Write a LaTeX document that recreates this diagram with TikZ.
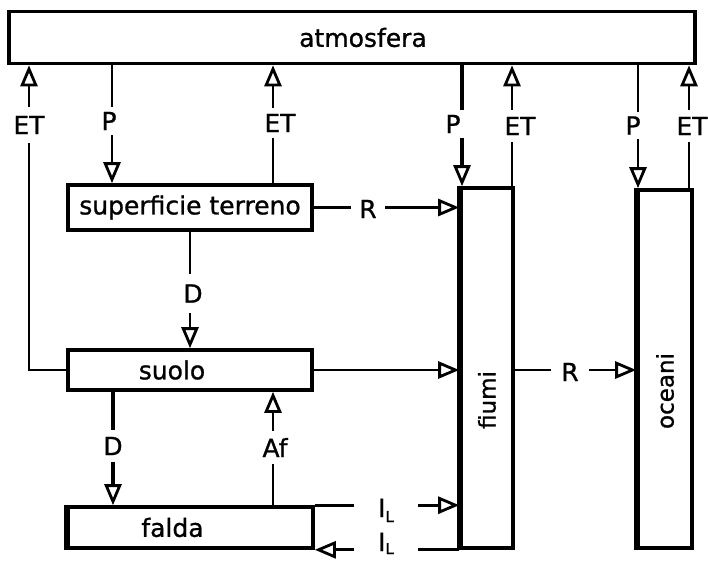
\documentclass[tikz,border=0pt]{standalone}
\usepackage{fontspec}
\setmainfont{DejaVu Sans}[UprightFeatures={FakeBold=1.0}]
\usetikzlibrary{arrows.meta}
\begin{document}
\begin{tikzpicture}[x=1pt,y=-1pt,
  txt/.style={font=\fontsize{25}{29}\selectfont},
  box/.style={draw, line width=3.6pt, inner sep=0pt, txt},
  conn/.style={line width=2.8pt},
  arr/.style={conn, -{Triangle[open, length=21pt, width=17pt, line width=2.8pt]}},
  lbl/.style={fill=white, inner xsep=8pt, inner ysep=7pt, txt},
  vtext/.style={rotate=90, inner sep=0pt, font=\fontsize{23}{27}\selectfont}]
\useasboundingbox[fill=white] (0,0) rectangle (708,560);

% boxes
\node[box, minimum width=686pt, minimum height=52pt] (atm) at (352,37.5) {\hspace*{22pt}atmosfera};
\node[box, minimum width=244pt, minimum height=45pt] (sup) at (190,207.5) {superficie terreno};
\node[box, minimum width=244pt, minimum height=40pt] (suolo) at (190,370) {\hspace*{-36pt}suolo};
\node[box, minimum width=245pt, minimum height=41pt] (falda) at (190.5,527.5) {\hspace*{-36pt}falda};
\node[box, minimum width=52pt, minimum height=360pt] (fiumi) at (487,368) {};
\node[box, minimum width=54pt, minimum height=358pt] (oceani) at (665,369) {};
\node[vtext] (fiumit) at (487,400) {fiumi};
\node[vtext] (oceanit) at (665,391) {oceani};

% thicker left borders
\draw[line width=5pt] (falda.north west) -- (falda.south west);
\draw[line width=4.5pt] (fiumi.north west) -- (fiumi.south west);
\draw[line width=5pt] (oceani.north west) -- (oceani.south west);

% x positions of vertical connectors
\coordinate (cET1) at (29,0);
\coordinate (cP1) at (112,0);
\coordinate (cET2) at (273,0);
\coordinate (cP2) at (462,0);
\coordinate (cET3) at (512,0);
\coordinate (cP3) at (638,0);
\coordinate (cET4) at (689,0);
\coordinate (cD2) at (113,0);
\coordinate (cAf) at (273,0);

% connectors
\draw[arr] (suolo.west) -| (cET1 |- atm.south);
\draw[arr] (cP1 |- atm.south) -- (cP1 |- sup.north);
\draw[arr] (cET2 |- sup.north) -- (cET2 |- atm.south);
\draw[arr, line width=3.6pt] (cP2 |- atm.south) -- (cP2 |- fiumi.north);
\draw[arr] (cET3 |- fiumi.north) -- (cET3 |- atm.south);
\draw[arr] (cP3 |- atm.south) -- (cP3 |- oceani.north);
\draw[arr] (cET4 |- oceani.north) -- (cET4 |- atm.south);
\draw[arr] (sup.east) -- (sup.east -| fiumi.west);
\draw[arr] (sup.south) -- (suolo.north);
\draw[arr] (suolo.east) -- (suolo.east -| fiumi.west);
\draw[arr] (fiumi.east |- suolo.east) -- (oceani.west |- suolo.east);
\draw[arr, line width=3.6pt] (cD2 |- suolo.south) -- (cD2 |- falda.north);
\draw[arr] (cAf |- falda.north) -- (cAf |- suolo.south);
\draw[arr] (falda.north east) -- (falda.north east -| fiumi.west);
\draw[arr] (fiumi.south west) -- (fiumi.south west -| falda.east);

% labels
\node[lbl, inner ysep=9pt] (lET1) at (29,125) {ET};
\node[lbl, inner ysep=5pt] (lP1) at (109,121) {P};
\node[lbl, inner ysep=6pt] (lET2) at (280,123) {ET};
\node[lbl, inner ysep=5pt] (lP2) at (453,124) {P};
\node[lbl] (lET3) at (520,126) {ET};
\node[lbl, inner ysep=4pt] (lP3) at (633,125.5) {P};
\node[lbl] (lET4) at (692,126) {ET};
\node[lbl, inner ysep=10pt] (lR1) at (368,209) {R};
\node[lbl, inner ysep=10pt] (lD1) at (193,293.5) {D};
\node[lbl, inner xsep=10pt] (lR2) at (570,372) {R};
\node[lbl] (lD2) at (113,446) {D};
\node[lbl] (lAf) at (275,447.5) {Af};
\node[lbl, inner xsep=24pt, anchor=base] (lIL1) at (386,517) {I\raisebox{-5pt}{\fontsize{15}{15}\selectfont L}};
\node[lbl, inner xsep=24pt, inner ysep=3pt, anchor=base] (lIL2) at (386,551) {I\raisebox{-3pt}{\fontsize{15}{15}\selectfont L}};
\end{tikzpicture}
\end{document}
